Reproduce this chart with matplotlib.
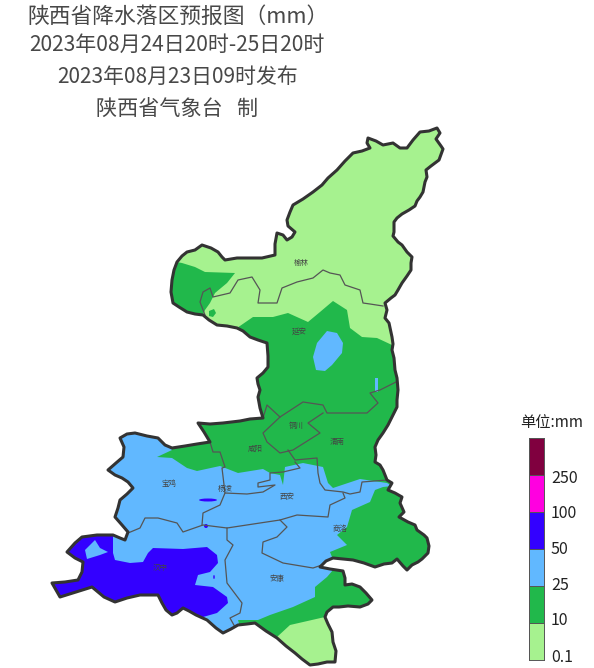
import matplotlib
matplotlib.use("Agg")
import matplotlib.pyplot as plt
from matplotlib.patches import Polygon, Ellipse

plt.rcParams['font.family'] = ['Noto Sans CJK SC', 'DejaVu Sans']

W, H = 594, 668
C_01, C_10, C_25, C_50, C_100, C_250 = '#A6F28F', '#21B84B', '#61B8FF', '#3300FF', '#FF00E0', '#80003F'
level_labels = ['0.1', '10', '25', '50', '100', '250']
level_colors = [C_01, C_10, C_25, C_50, C_100, C_250]
label_pos = [0.135, 1.11, 2.08, 3.03, 4.0, 4.95]
INK = '#333333'

province = [
 (437,128),(440,133),(436,139),(441,146),(443,149),(439,160),(431,166),(426,170),(427,177),(425,182),(423,192),(420,197),
 (417,201),(415,206),(409,210),(402,214),(397,218),(394,222),(394,232),(393,236),(398,242),(402,245),(407,252),(412,257),
 (411,263),(411,270),(407,276),(402,283),(398,290),(395,295),(391,298),(385,303),(387,310),(385,318),(389,323),(392,337),
 (393,344),(392,350),(394,358),(395,370),(397,378),(398,390),(397,400),(397,407),(392,417),(388,425),(383,433),(378,440),
 (375,447),(376,455),(375,462),(380,465),(383,470),(387,480),(392,483),(388,490),(395,493),(402,497),(400,503),(404,512),
 (399,517),(408,522),(415,525),(417,530),(424,535),(427,538),(429,546),(428,553),(422,559),(418,562),(412,565),(407,570),
 (403,566),(397,559),(392,563),(384,564),(375,567),(364,563),(353,560),(343,559),(333,558),(326,561),(320,567),(330,569),
 (343,571),(345,578),(345,585),(352,584),(360,587),(366,593),(372,600),(368,604),(360,607),(348,606),(339,607),(333,607),
 (327,612),(325,617),(328,624),(332,632),(333,642),(336,651),(335,662),(327,662),(318,664),(310,665),(302,659),(295,653),
 (286,646),(277,638),(266,631),(255,623),(247,624),(238,625),(231,629),(223,633),(216,628),(207,620),(196,615),(189,611),
 (183,608),(177,613),(172,615),(166,610),(162,603),(158,595),(149,595),(140,595),(127,598),(115,602),(104,597),(92,587),
 (76,592),(60,597),(56,590),(52,583),(65,582),(78,580),(82,572),(83,562),(75,558),(67,552),(75,543),(82,537),(97,535),
 (113,535),(120,538),(125,540),(128,532),(122,525),(115,517),(118,508),(120,500),(127,494),(133,488),(128,482),(122,478),
 (115,475),(108,470),(116,463),(123,457),(124,447),(120,438),(127,434),(135,433),(147,436),(158,438),(165,445),(172,448),
 (185,446),(197,444),(210,442),(204,432),(198,423),(210,424),(223,423),(240,421),(250,419),(263,418),(260,408),(258,397),
 (260,390),(258,384),(257,378),(263,373),(268,367),(268,356),(267,343),(258,340),(250,337),(243,331),(237,328),(227,326),
 (217,325),(209,320),(203,315),(195,314),(187,312),(179,307),(173,303),(171,292),(172,280),(174,270),(177,262),(182,256),
 (187,252),(195,250),(202,245),(211,248),(218,252),(222,257),(225,260),(237,258),(250,258),(262,258),(275,255),(275,244),
 (277,233),(283,235),(287,240),(292,237),(295,232),(288,226),(287,220),(290,212),(293,205),(303,199),(313,192),(322,185),
 (328,178),(337,170),(345,161),(353,153),(362,151),(370,148),(367,143),(368,138),(376,141),(383,145),(393,143),(400,148),
 (407,148),(413,140),(420,132),(429,131),(437,128)]

zone_nw = [(182,263),(195,267),(205,272),(235,273),(227,283),(215,293),(210,303),(205,310),(202,317),(165,320),(165,260)]
zone_nw_spot = [(209,311),(214,309),(216,313),(213,317),(209,316)]
zone_green_main = [(237,328),(253,317),(273,317),(288,313),(308,322),(320,312),(333,301),(347,310),(350,328),(362,337),
 (377,338),(392,345),(405,350),(440,420),(440,600),(350,670),(230,660),(230,615),(170,500),(150,455),(237,328)]
zone_blue = [(100,420),(165,440),(172,450),(157,457),(172,458),(187,468),(197,471),(220,466),(238,473),(263,469),(270,473),
 (280,475),(283,485),(285,467),(303,463),(323,467),(328,483),(333,488),(360,479),(387,483),(392,486),(383,487),(375,490),
 (370,502),(352,510),(347,527),(337,535),(347,545),(330,552),(332,557),(322,565),(333,570),(327,577),(315,587),(315,597),
 (293,607),(270,615),(258,620),(238,620),(240,627),(235,650),(40,650),(40,430)]
zone_deep = [(113,530),(113,553),(115,560),(130,563),(143,562),(148,553),(153,548),(183,549),(207,547),(217,555),(218,563),
 (210,572),(198,575),(195,585),(213,587),(227,597),(228,603),(217,613),(203,617),(190,640),(40,640),(40,520)]
zone_deep_hole = [(95,540),(100,548),(108,552),(100,555),(87,559),(85,550)]
zone_lake = [(327,331),(337,333),(343,343),(342,353),(332,365),(325,371),(316,370),(313,357),(317,343)]
zone_strip = [(375,378),(378,378),(378,392),(375,392)]
zone_se_light = [(277,637),(290,625),(325,617),(345,610),(345,670),(300,670)]

borders = [
 [(383,306),(370,304),(363,303),(360,290),(345,285),(340,275),(330,273),(323,270),(313,278),(297,282),(282,288),(277,303),
  (267,303),(258,303),(260,290),(252,277),(238,280),(230,293),(213,297),(210,288),(203,292),(200,302),(205,315)],
 [(396,382),(380,390),(370,393),(378,403),(367,413),(327,413),(323,405),(303,402),(280,417),(267,405),(263,418)],
 [(280,417),(263,433),(267,442),(280,453),(293,450),(320,433),(308,423),(323,413)],
 [(288,450),(295,460),(317,458),(318,473),(320,483),(325,490),(343,492),(350,494),(360,492),(362,482),(387,480)],
 [(295,462),(300,468),(283,472),(270,473),(270,480),(258,483),(258,487),(275,485),(263,492),(247,494),(225,493)],
 [(210,442),(213,452),(220,452),(225,467),(222,468),(225,493),(220,505),(203,513),(202,525)],
 [(343,493),(345,498),(330,505),(328,517),(297,515),(280,520),(260,523),(227,528),(203,525),(183,532),(177,523),(158,518),
  (145,518),(140,528),(128,533)],
 [(227,528),(227,540),(233,545),(225,560),(227,583),(242,603),(240,613),(230,618),(235,627)],
 [(280,520),(287,527),(277,537),(263,542),(262,553),(283,563),(313,568),(322,565)],
]

city_names = ['榆林','延安','铜川','渭南','咸阳','宝鸡','杨凌','西安','商洛','安康','汉中']
city_x = [301,299,296,337,255,169,225,287,340,277,160]
city_y = [263,332,426,442,449,484,489,497,529,579,568]

fig = plt.figure(figsize=(W/100, H/100), dpi=100)
ax = fig.add_axes([0,0,1,1])
ax.set_xlim(0,W); ax.set_ylim(H,0); ax.axis('off')

outline = Polygon(province, closed=True, fc=C_01, ec='none', zorder=1)
ax.add_patch(outline)
fills = [(zone_nw,C_10),(zone_nw_spot,C_10),(zone_green_main,C_10),(zone_lake,C_25),(zone_strip,C_25),(zone_blue,C_25),
         (zone_deep,C_50),(zone_deep_hole,C_25),(zone_se_light,C_01)]
for i,(pts,c) in enumerate(fills):
    p = Polygon(pts, closed=True, fc=c, ec='none', zorder=2+i*0.01)
    ax.add_patch(p); p.set_clip_path(outline)
for xy,w,h in [((208,500),18,3),((206,526),4,4),((214,577),1.5,4)]:
    ax.add_patch(Ellipse(xy,w,h,fc=C_50,ec='none',zorder=2.5))
for b in borders:
    xs,ys = zip(*b)
    ax.plot(xs,ys,color='#555555',lw=0.9,zorder=3)
ax.add_patch(Polygon(province, closed=True, fc='none', ec=INK, lw=2.2, joinstyle='round', zorder=4))
for n,x,y in zip(city_names,city_x,city_y):
    ax.text(x,y,n,fontsize=5.4,color='#444444',ha='center',va='center',zorder=5)

TC='#484848'
ax.text(27,17,'陕西省降水落区预报图（mm）',fontsize=15.7,color=TC,ha='left',va='center')
ax.text(29,45,'2023年08月24日20时-25日20时',fontsize=15.1,color=TC,ha='left',va='center')
ax.text(57,77,'2023年08月23日09时发布',fontsize=15,color=TC,ha='left',va='center')
ax.text(96,109,'陕西省气象台   制',fontsize=15.2,color=TC,ha='left',va='center')
ax.text(551.5,422,'单位:mm',fontsize=11,color='#222222',ha='center',va='center')

cax = fig.add_axes([529/W, 1-660/H, 15/W, 222/H])
for i,c in enumerate(level_colors):
    cax.barh(i+0.5,1,height=1,color=c,edgecolor='#555555',lw=0.7)
cax.set_xlim(0,1); cax.set_ylim(0,6)
cax.set_xticks([])
cax.yaxis.tick_right()
cax.set_yticks(label_pos)
cax.set_yticklabels(level_labels,fontsize=11.5,color='#222222')
cax.tick_params(axis='y',length=0,pad=5)
for s in cax.spines.values():
    s.set_color('#555555'); s.set_linewidth(0.7)
fig.savefig('out.png',dpi=100)
